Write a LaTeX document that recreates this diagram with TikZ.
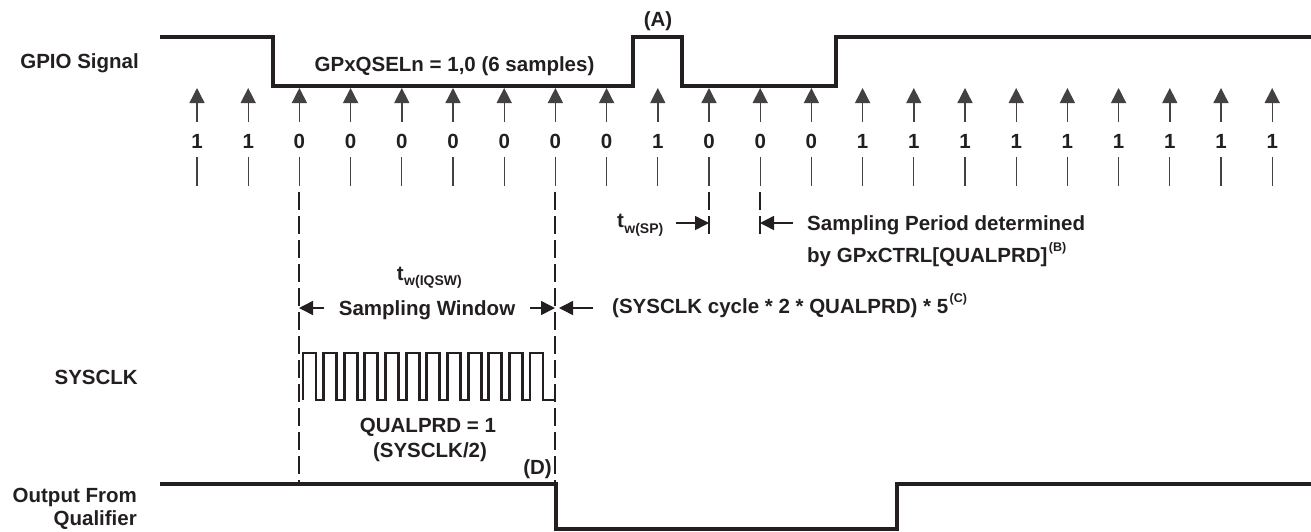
\documentclass[tikz,border=0pt]{standalone}
\usepackage{fontspec}
\setmainfont{Liberation Sans}
\usetikzlibrary{arrows.meta}
\definecolor{ink}{HTML}{231F20}
\begin{document}
\begin{tikzpicture}[x=1pt,y=-1pt,
  lbl/.style={font=\fontsize{20.5}{24}\selectfont\bfseries, inner sep=0pt, text=ink},
  sub/.style={font=\fontsize{14}{16}\selectfont\bfseries, inner sep=0pt, text=ink},
  sup/.style={font=\fontsize{12.5}{14}\selectfont\bfseries, inner sep=0pt, text=ink},
  wave/.style={line width=3.2pt, line join=miter, draw=ink},
  clk/.style={line width=2.9pt, line join=miter, draw=ink},
  samplearrow/.style={line width=1.4pt, draw=ink!85, -{Triangle[length=15pt,width=15pt]}},
  tick/.style={line width=1.3pt, draw=ink!85},
  dimarrow/.style={line width=1.5pt, draw=ink, -{Triangle[length=14pt,width=14pt]}},
  guide/.style={line width=1.1pt, draw=ink, dash pattern=on 18pt off 6pt}
]
\useasboundingbox (0,0) rectangle (1311,531);

% ---- labels on the left
\node[lbl, anchor=base east] (gpio) at (139,68) {GPIO Signal};
\node[lbl, anchor=base east] (sysclk) at (138,384) {SYSCLK};
\node[lbl, anchor=base east] (outf) at (137,502) {Output From};
\node[lbl, anchor=base east] (qual) at (137,525) {Qualifier};

% ---- GPIO waveform
\draw[wave] (160,37) -- (273,37) -- (273,86) -- (633,86) -- (633,37) -- (682,37)
  -- (682,86) -- (836,86) -- (836,37) -- (1311,37);
\node[lbl, anchor=base] (qsel) at (454.5,71) {GPxQSELn = 1,0 (6 samples)};
\node[lbl, anchor=base] (A) at (658,26) {(A)};

% ---- sample arrows, values and ticks
\foreach \v [count=\i from 0] in {1,1,0,0,0,0,0,0,0,1,0,0,0,1,1,1,1,1,1,1,1,1} {
  \pgfmathsetmacro{\xx}{197+51.2*\i}
  \coordinate (at\i) at (\xx,122);
  \coordinate (ah\i) at (\xx,88);
  \coordinate (tt\i) at (\xx,157);
  \coordinate (tb\i) at (\xx,186);
  \draw[samplearrow] (at\i) -- (ah\i);
  \node[lbl, anchor=base] (d\i) at (\xx,148) {\v};
  \draw[tick] (tt\i) -- (tb\i);
}

% ---- dashed guides
\coordinate (g2a) at (299,192); \coordinate (g2b) at (299,484);
\coordinate (g7a) at (555,192); \coordinate (g7b) at (555,484);
\coordinate (g10a) at (709,192); \coordinate (g10b) at (709,237);
\coordinate (g11a) at (760,192); \coordinate (g11b) at (760,237);
\draw[guide] (g2a) -- (g2b);
\draw[guide] (g7a) -- (g7b);
\draw[guide] (g10a) -- (g10b);
\draw[guide] (g11a) -- (g11b);

% ---- sampling period annotation
\node[lbl, anchor=base west] (tsp) at (617,227) {t};
\node[sub, anchor=base west] (tspsub) at (tsp.base east) [yshift=-6pt] {w(SP)};
\coordinate (spA) at (676,223); \coordinate (spB) at (709,223);
\coordinate (spC) at (793,223); \coordinate (spD) at (760,223);
\draw[dimarrow] (spA) -- (spB);
\draw[dimarrow] (spC) -- (spD);
\node[lbl, anchor=base west] (sp1) at (807,230) {Sampling Period determined};
\node[lbl, anchor=base west] (sp2) at (807,262) {by GPxCTRL[QUALPRD]};
\node[sup, anchor=base west] (supB) at ([xshift=1pt]sp2.base east) [yshift=11pt] {(B)};

% ---- sampling window annotation
\node[lbl, anchor=base east] (tiq) at (404,280) {t};
\node[sub, anchor=base west] (tiqsub) at (tiq.base east) [yshift=-5pt] {w(IQSW)};
\coordinate (wL1) at (324,308); \coordinate (wL) at (299,308);
\coordinate (wR1) at (530,308); \coordinate (wR) at (555,308);
\coordinate (cL1) at (593,308); \coordinate (cL) at (559,308);
\draw[dimarrow] (wL1) -- (wL);
\draw[dimarrow] (wR1) -- (wR);
\draw[dimarrow] (cL1) -- (cL);
\node[lbl, anchor=base] (sw) at (427,315) {Sampling Window};
\node[lbl, anchor=base west] (cyc) at (612,313) {(SYSCLK cycle * 2 * QUALPRD) * 5};
\node[sup, anchor=base west] (supC) at ([xshift=1pt]cyc.base east) [yshift=11pt] {(C)};

% ---- SYSCLK
\draw[clk] (303,400) foreach \k in {0,...,11} {
  -- ({303+\k*20.64},400) -- ({303+\k*20.64},353) -- ({316+\k*20.64},353) -- ({316+\k*20.64},400)
} -- (555,400);
\node[lbl, anchor=base] (qp1) at (428,432) {QUALPRD = 1};
\node[lbl, anchor=base] (qp2) at (430,457) {(SYSCLK/2)};
\node[lbl, anchor=base east] (D) at (552,474) {(D)};

% ---- output from qualifier
\draw[wave] (160,484) -- (556,484) -- (556,529) -- (897,529) -- (897,484) -- (1311,484);
\end{tikzpicture}
\end{document}
